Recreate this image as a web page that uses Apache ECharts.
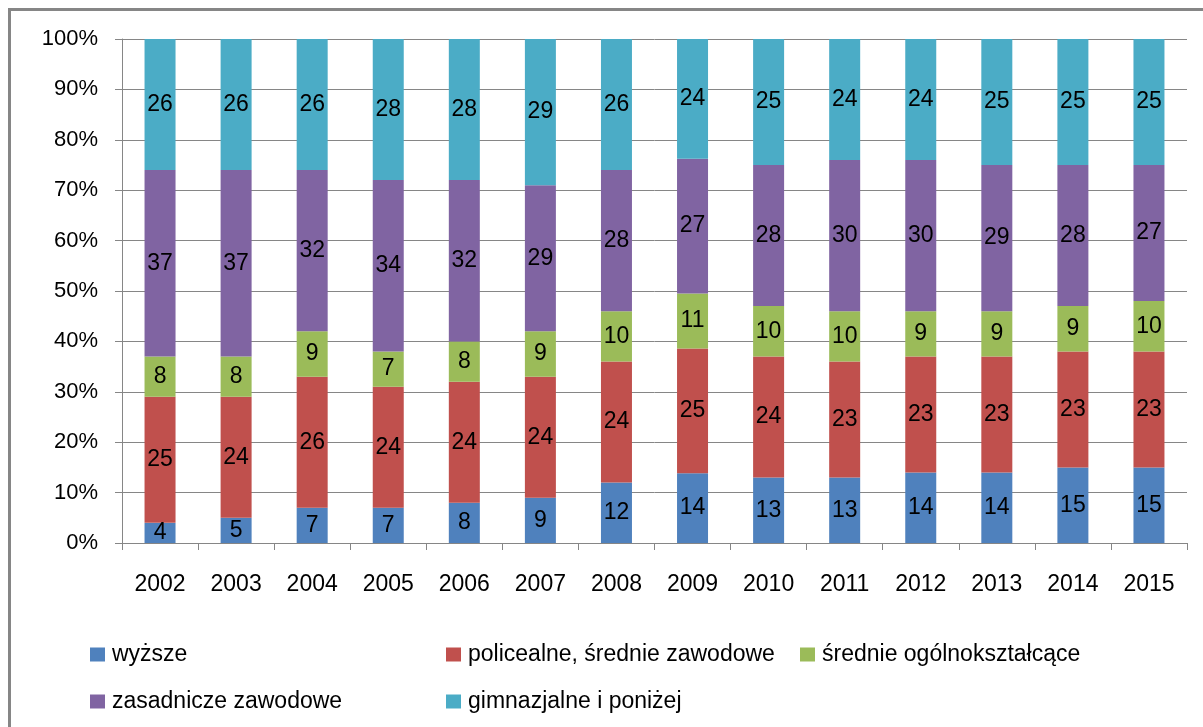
<!DOCTYPE html>
<html><head><meta charset="utf-8">
<script src="https://cdn.jsdelivr.net/npm/echarts@6/dist/echarts.min.js"></script>
<style>html,body{margin:0;padding:0;background:#fff}#c{width:1203px;height:727px}</style>
</head><body><div id="c"></div>
<script>
const years = ['2002','2003','2004','2005','2006','2007','2008','2009','2010','2011','2012','2013','2014','2015'];
const seriesNames = ['wyższe','policealne, średnie zawodowe','średnie ogólnokształcące','zasadnicze zawodowe','gimnazjalne i poniżej'];
const wyzsze      = [4,5,7,7,8,9,12,14,13,13,14,14,15,15];
const policealne  = [25,24,26,24,24,24,24,25,24,23,23,23,23,23];
const ogolno      = [8,8,9,7,8,9,10,11,10,10,9,9,9,10];
const zasadnicze  = [37,37,32,34,32,29,28,27,28,30,30,29,28,27];
const gimnazjalne = [26,26,26,28,28,29,26,24,25,24,24,25,25,25];
const colors = ['#4F81BD','#C0504D','#9BBB59','#8064A2','#4BACC6'];
const yTicks = ['0%','10%','20%','30%','40%','50%','60%','70%','80%','90%','100%'];

const all = [wyzsze, policealne, ogolno, zasadnicze, gimnazjalne];
const totals = years.map((_, i) => all.reduce((s, a) => s + a[i], 0));
const FONT = 'Liberation Sans';

const series = all.map((arr, k) => ({
  name: seriesNames[k],
  type: 'bar',
  stack: 'total',
  barWidth: 31,
  itemStyle: { color: colors[k] },
  label: { show: true, position: 'inside', color: '#000', fontFamily: FONT, fontSize: 23,
           formatter: p => String(arr[p.dataIndex]) },
  data: arr.map((v, i) => v / totals[i] * 100)
}));

const legendPos = [[90,643],[446,643],[800,643],[90,690],[446,690]];
const legends = seriesNames.map((n, k) => ({
  data: [n], left: legendPos[k][0], top: legendPos[k][1], padding: 0,
  itemWidth: 15, itemHeight: 14, itemGap: 0, icon: 'rect',
  textStyle: { fontFamily: FONT, fontSize: 23, color: '#000', padding: [0,0,0,2] },
  selectedMode: false
}));

const chart = echarts.init(document.getElementById('c'), null, { renderer: 'canvas' });
chart.setOption({
  animation: false,
  backgroundColor: '#fff',
  graphic: [{ type: 'rect', shape: { x: 9.5, y: 9.5, width: 1220, height: 740 },
              style: { fill: 'none', stroke: '#868686', lineWidth: 3 }, silent: true }],
  grid: { left: 122, right: 16, top: 39, bottom: 184 },
  legend: legends,
  xAxis: {
    type: 'category', data: years,
    axisLine: { lineStyle: { color: '#868686', width: 1 } },
    axisTick: { show: true, length: 7, lineStyle: { color: '#868686' } },
    axisLabel: { fontFamily: FONT, fontSize: 23, color: '#000', margin: 30 }
  },
  yAxis: {
    type: 'value', min: 0, max: 100, interval: 10,
    axisLine: { show: true, lineStyle: { color: '#868686' } },
    axisTick: { show: true, length: 7, lineStyle: { color: '#868686' } },
    splitLine: { lineStyle: { color: '#868686', width: 1 } },
    axisLabel: { fontFamily: FONT, fontSize: 22, color: '#000', margin: 24,
                 formatter: v => yTicks[Math.round(v / 10)] }
  },
  series: series
});
</script></body></html>
